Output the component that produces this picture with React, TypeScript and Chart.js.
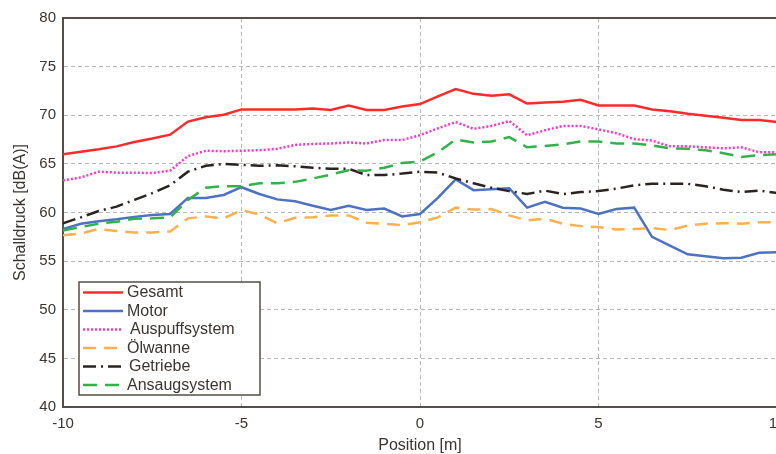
import React, { useEffect, useRef } from "react";
import { Chart, registerables } from "chart.js";

Chart.register(...registerables);

const positions = [
  -10, -9.5, -9, -8.5, -8, -7.5, -7, -6.5, -6, -5.5, -5, -4.5, -4, -3.5, -3, -2.5, -2, -1.5, -1, -0.5,
  0, 0.5, 1, 1.5, 2, 2.5, 3, 3.5, 4, 4.5, 5, 5.5, 6, 6.5, 7, 7.5, 8, 8.5, 9, 9.5, 10,
];

const gesamt = [
  66.0, 66.25, 66.5, 66.8, 67.25, 67.6, 68.0, 69.35, 69.8, 70.05, 70.6, 70.6, 70.6, 70.6, 70.7, 70.55, 71.0, 70.55, 70.55, 70.9,
  71.15, 71.95, 72.7, 72.2, 72.0, 72.15, 71.2, 71.3, 71.4, 71.6, 71.0, 71.0, 71.0, 70.6, 70.4, 70.15, 69.95, 69.75, 69.5, 69.5, 69.3,
];

const motor = [
  58.3, 58.85, 59.1, 59.3, 59.55, 59.75, 59.85, 61.5, 61.5, 61.8, 62.6, 61.9, 61.35, 61.15, 60.7, 60.25, 60.7, 60.25, 60.4, 59.6,
  59.85, 61.5, 63.4, 62.3, 62.4, 62.5, 60.5, 61.1, 60.5, 60.4, 59.85, 60.35, 60.5, 57.5, 56.6, 55.7, 55.5, 55.3, 55.35, 55.85, 55.9,
];

const auspuff = [
  63.3, 63.6, 64.2, 64.1, 64.1, 64.05, 64.3, 65.8, 66.35, 66.3, 66.35, 66.4, 66.55, 66.95, 67.05, 67.1, 67.2, 67.1, 67.45, 67.45,
  67.95, 68.65, 69.3, 68.6, 68.9, 69.4, 67.95, 68.45, 68.9, 68.9, 68.55, 68.15, 67.55, 67.4, 66.8, 66.8, 66.7, 66.6, 66.7, 66.2, 66.2,
];

const oelwanne = [
  57.65, 57.85, 58.3, 58.1, 57.95, 57.95, 58.05, 59.4, 59.6, 59.4, 60.25, 59.8, 58.9, 59.45, 59.5, 59.7, 59.7, 58.95, 58.85, 58.7,
  59.0, 59.5, 60.5, 60.3, 60.35, 59.7, 59.2, 59.35, 58.85, 58.6, 58.5, 58.25, 58.3, 58.4, 58.2, 58.65, 58.85, 58.9, 58.85, 59.0, 59.0,
];

const getriebe = [
  58.9, 59.5, 60.15, 60.6, 61.3, 62.0, 62.8, 64.2, 64.8, 65.0, 64.9, 64.8, 64.85, 64.75, 64.6, 64.5, 64.5, 63.85, 63.85, 64.0,
  64.2, 64.1, 63.5, 63.0, 62.55, 62.2, 61.9, 62.25, 61.9, 62.1, 62.2, 62.45, 62.8, 62.95, 62.95, 62.95, 62.7, 62.35, 62.1, 62.25, 62.0,
];

const ansaug = [
  58.15, 58.5, 58.85, 59.05, 59.35, 59.4, 59.5, 61.3, 62.55, 62.7, 62.7, 63.0, 63.0, 63.15, 63.5, 63.9, 64.35, 64.3, 64.6, 65.1,
  65.25, 66.2, 67.5, 67.2, 67.3, 67.75, 66.7, 66.85, 67.0, 67.3, 67.3, 67.1, 67.1, 66.9, 66.6, 66.55, 66.4, 66.1, 65.7, 65.9, 66.0,
];

const seriesNames = ["Gesamt", "Motor", "Auspuffsystem", "Ölwanne", "Getriebe", "Ansaugsystem"];
const seriesValues = [gesamt, motor, auspuff, oelwanne, getriebe, ansaug];
const seriesColors = ["#ff2b2b", "#4d72c2", "#ff33cc", "#ffb04e", "#2a2420", "#33b24a"];
const seriesDash: number[][] = [[], [], [2, 2], [13, 8], [13, 5, 2, 5], [14, 8]];
const legendTextShift = [0, 0, 3, 0, 2, 0];

const FONT = "'Liberation Sans', Arial, sans-serif";
const TEXT = "#3a3530";
const AXIS = "#554d47";

const legendPlugin = {
  id: "insideLegend",
  afterDraw(chart: any) {
    const { ctx, chartArea } = chart;
    ctx.save();
    ctx.strokeStyle = AXIS;
    ctx.lineWidth = 2;
    ctx.beginPath();
    ctx.moveTo(chartArea.left - 1, chartArea.top);
    ctx.lineTo(chartArea.right + 1, chartArea.top);
    ctx.stroke();

    const x0 = 79, y0 = 282, w = 181, h = 113;
    ctx.fillStyle = "#ffffff";
    ctx.fillRect(x0, y0, w, h);
    ctx.strokeStyle = AXIS;
    ctx.lineWidth = 1.5;
    ctx.strokeRect(x0, y0, w, h);

    ctx.font = `16px ${FONT}`;
    ctx.textBaseline = "middle";
    ctx.textAlign = "left";
    seriesNames.forEach((name, i) => {
      const y = 292.5 + i * 18.5;
      ctx.save();
      ctx.strokeStyle = seriesColors[i];
      ctx.lineWidth = 2.5;
      ctx.setLineDash(seriesDash[i]);
      ctx.beginPath();
      ctx.moveTo(83, y);
      ctx.lineTo(123, y);
      ctx.stroke();
      ctx.restore();
      ctx.fillStyle = TEXT;
      ctx.fillText(name, 127 + legendTextShift[i], y + 0.5);
    });
    ctx.restore();
  },
};

export default function App() {
  const ref = useRef<HTMLCanvasElement | null>(null);

  useEffect(() => {
    if (!ref.current) return;
    const datasets = seriesNames.map((name, i) => ({
      label: name,
      data: positions.map((p, j) => ({ x: p, y: seriesValues[i][j] })),
      borderColor: seriesColors[i],
      backgroundColor: seriesColors[i],
      borderWidth: 2.5,
      borderDash: seriesDash[i],
      pointRadius: 0,
      tension: 0,
      fill: false,
    }));
    const chart = new Chart(ref.current, {
      type: "line",
      data: { datasets: datasets.slice().reverse() as any },
      options: {
        animation: false,
        responsive: false,
        maintainAspectRatio: false,
        layout: { padding: { top: 18, right: 23, left: 0, bottom: 0 } },
        plugins: { legend: { display: false }, tooltip: { enabled: false } },
        scales: {
          x: {
            type: "linear",
            min: -10,
            max: 10,
            ticks: { stepSize: 5, color: TEXT, font: { family: FONT, size: 15 }, padding: 8 },
            grid: { color: "#b8b8b8", lineWidth: 1, drawTicks: false },
            border: { color: AXIS, width: 2, dash: [4, 3] },
            title: {
              display: true,
              text: "Position [m]",
              color: TEXT,
              font: { family: FONT, size: 16, lineHeight: 1.0 },
              padding: { top: 0, bottom: 0 },
            },
            afterFit: (s: any) => {
              s.height = 47;
            },
          },
          y: {
            type: "linear",
            min: 40,
            max: 80,
            ticks: { stepSize: 5, color: TEXT, font: { family: FONT, size: 15 }, padding: 7 },
            grid: { color: "#b8b8b8", lineWidth: 1, drawTicks: false },
            border: { color: AXIS, width: 2, dash: [4, 3] },
            title: {
              display: true,
              text: "Schalldruck [dB(A)]",
              color: TEXT,
              font: { family: FONT, size: 16, lineHeight: 1.2 },
              padding: { top: 11, bottom: 0 },
            },
            afterFit: (s: any) => {
              s.width = 63;
            },
          },
        },
      },
      plugins: [legendPlugin],
    });
    return () => chart.destroy();
  }, []);

  return (
    <div
      style={{
        position: "fixed",
        left: 0,
        top: 0,
        width: 776,
        height: 454,
        overflow: "hidden",
        background: "#ffffff",
      }}
    >
      <canvas ref={ref} width={800} height={454} style={{ display: "block" }} />
    </div>
  );
}
